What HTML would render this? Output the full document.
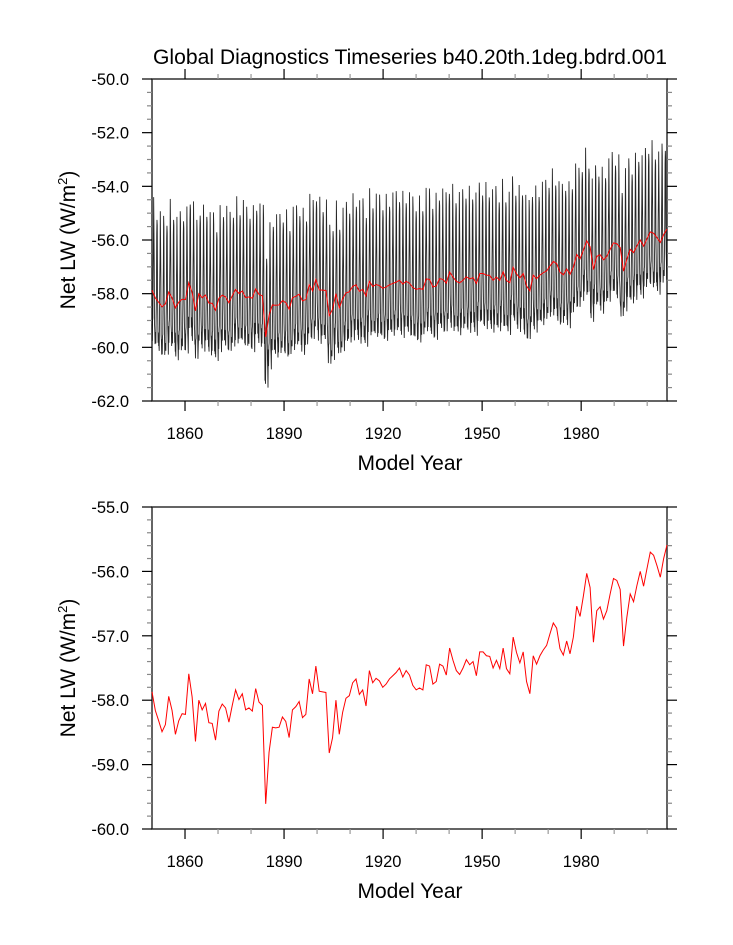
<!DOCTYPE html>
<html><head><meta charset="utf-8">
<style>
html,body{margin:0;padding:0;background:#fff;}
svg{display:block;font-family:"Liberation Sans",Arial,sans-serif;}
</style></head>
<body>
<svg id="chart" width="733" height="945" viewBox="0 0 733 945" xmlns="http://www.w3.org/2000/svg">
<text x="410" y="64" font-size="21" text-anchor="middle" fill="#000" textLength="514" lengthAdjust="spacingAndGlyphs">Global Diagnostics Timeseries b40.20th.1deg.bdrd.001</text>
<g id="top"></g>
<g id="bot"></g>
</svg>
<script>
// Annual mean Net LW (W/m2), years 1850..2004
const years = [];
for (let y = 1850; y <= 2004; y++) years.push(y);
const annualMean = [
-57.87,-58.16,-58.32,-58.49,-58.38,-57.94,-58.16,-58.53,-58.32,-58.21,
-58.22,-57.59,-57.95,-58.64,-58.00,-58.15,-58.05,-58.35,-58.36,-58.62,
-58.17,-58.06,-58.12,-58.34,-58.08,-57.84,-57.99,-57.90,-58.15,-58.12,
-58.17,-57.82,-58.03,-58.08,-59.61,-58.81,-58.42,-58.43,-58.42,-58.26,
-58.33,-58.58,-58.15,-58.10,-58.02,-58.27,-58.22,-57.67,-57.90,-57.47,
-57.86,-57.87,-57.88,-58.82,-58.58,-58.00,-58.53,-58.19,-57.97,-57.93,
-57.73,-57.67,-57.91,-57.84,-58.09,-57.54,-57.73,-57.66,-57.70,-57.80,
-57.75,-57.67,-57.62,-57.57,-57.50,-57.64,-57.54,-57.61,-57.77,-57.84,
-57.81,-57.84,-57.45,-57.47,-57.75,-57.71,-57.44,-57.47,-57.61,-57.19,
-57.38,-57.54,-57.60,-57.50,-57.37,-57.45,-57.40,-57.62,-57.25,-57.25,
-57.31,-57.32,-57.50,-57.38,-57.51,-57.19,-57.51,-57.59,-57.02,-57.26,
-57.42,-57.25,-57.71,-57.90,-57.31,-57.44,-57.31,-57.22,-57.15,-56.97,
-56.80,-56.88,-57.20,-57.30,-57.08,-57.28,-57.02,-56.54,-56.70,-56.38,
-56.03,-56.25,-57.10,-56.61,-56.55,-56.74,-56.61,-56.35,-56.11,-56.14,
-56.28,-57.16,-56.71,-56.35,-56.47,-56.22,-56.00,-56.23,-55.96,-55.70,
-55.75,-55.91,-56.09,-55.80,-55.59
];
// Mean seasonal cycle anomaly (Jan..Dec), W/m2
const seasonal = [-1.45,-1.65,-1.45,-0.85,0.35,1.95,3.15,2.55,0.55,-1.05,-1.55,-1.65];
// Irregular month-to-month wiggle pattern (read visually), W/m2
const wiggle = [0.3,-0.4,0.5,-0.3,0.2,-0.5,0.4,-0.2,0.6,-0.3,0.1,-0.6,0.3,0.5,-0.4];

const topTicksY = [-62,-60,-58,-56,-54,-52,-50];
const topLabelsY = ["-62.0","-60.0","-58.0","-56.0","-54.0","-52.0","-50.0"];
const botTicksY = [-60,-59,-58,-57,-56,-55];
const botLabelsY = ["-60.0","-59.0","-58.0","-57.0","-56.0","-55.0"];
const xTicks = [1860,1890,1920,1950,1980];
const xLabels = ["1860","1890","1920","1950","1980"];

const NS = "http://www.w3.org/2000/svg";
function mk(parent, tag, attrs){
  const e = document.createElementNS(NS, tag);
  for (const k in attrs) e.setAttribute(k, attrs[k]);
  parent.appendChild(e);
  return e;
}
const L = 152, R = 667;
const X0 = 1850, X1 = 2006;

function panel(g, top, bottom, yMin, yMax, yMaj, yLab, yMinorStep, mirrorTop){
  const xs = v => L + (v - X0) / (X1 - X0) * (R - L);
  const ys = v => bottom - (v - yMin) / (yMax - yMin) * (bottom - top);
  const frame = mk(g, "rect", {x:L, y:top, width:R-L, height:bottom-top, fill:"none", stroke:"#222", "stroke-width":1.4});
  
  
  const nMin = Math.round((yMax - yMin) / yMinorStep);
  for (let i = 0; i <= nMin; i++){
    const v = yMin + i * yMinorStep;
    const isMaj = yMaj.some(m => Math.abs(m - v) < 1e-6);
    const len = isMaj ? 10 : 5;
    const col = isMaj ? "#000" : "#888";
    const t1 = mk(g, "line", {x1:L-len, x2:L, y1:ys(v), y2:ys(v), stroke:col, "stroke-width":1.2});
    
    
    const t2 = mk(g, "line", {x1:R, x2:R+len, y1:ys(v), y2:ys(v), stroke:col, "stroke-width":1.2});
    
    
  }
  yMaj.forEach((v, i) => {
    const t = mk(g, "text", {x:L-23, y:ys(v)+6, "font-size":16.5, "text-anchor":"end"});
    t.textContent = yLab[i];
    
    
  });
  for (let yr = 1860; yr <= 2000; yr += 10){
    const isMaj = xTicks.includes(yr);
    const len = isMaj ? 10 : 5;
    const col = isMaj ? "#000" : "#999";
    const t = mk(g, "line", {x1:xs(yr), x2:xs(yr), y1:bottom, y2:bottom+len, stroke:col, "stroke-width":1.2});
    
    
    if (mirrorTop){
      const t2 = mk(g, "line", {x1:xs(yr), x2:xs(yr), y1:top-len, y2:top, stroke:col, "stroke-width":1.2});
      
      
    }
  }
  xTicks.forEach((v, i) => {
    const t = mk(g, "text", {x:xs(v), y:bottom+38, "font-size":16.5, "text-anchor":"middle"});
    t.textContent = xLabels[i];
    
    
  });
  const xt = mk(g, "text", {x:410, y:bottom+69, "font-size":21, "text-anchor":"middle"});
  xt.textContent = "Model Year";
  
  
  const cy = (top + bottom) / 2;
  const yt = mk(g, "text", {x:0, y:0, "font-size":21, "text-anchor":"middle", transform:"translate(75,"+cy+") rotate(-90)"});
  yt.innerHTML = 'Net LW (W/m<tspan dy="-8" font-size="13">2</tspan><tspan dy="8">)</tspan>';
  
  
  return {xs, ys};
}
// annual points span the full year range of the axis
const stretch = (X1 - X0) / (years.length - 1);
const ax = i => X0 + i * stretch;

// Top panel (monthly + annual)
const gt = document.getElementById("top");
const A = panel(gt, 79, 401, -62, -50, topTicksY, topLabelsY, 0.5, true);
let pts = [];
let k = 0;
annualMean.forEach((m, yi) => {
  seasonal.forEach((s, mi) => {
    const w = wiggle[(k++) % wiggle.length];
    const v = m + s + w * (mi >= 4 && mi <= 8 ? 0.8 : 0.6);
    pts.push(A.xs(X0 + (yi + mi / 12) * (X1 - X0) / years.length).toFixed(2) + "," + A.ys(v).toFixed(2));
  });
});
const ml = mk(gt, "polyline", {points:pts.join(" "), fill:"none", stroke:"#000", "stroke-width":0.9, "stroke-opacity":0.85});


const ap = annualMean.map((v, i) => A.xs(ax(i)).toFixed(2) + "," + A.ys(v).toFixed(2));
const al = mk(gt, "polyline", {points:ap.join(" "), fill:"none", stroke:"#ff0000", "stroke-width":1});



// Bottom panel (annual)
const gb = document.getElementById("bot");
const B = panel(gb, 507, 829, -60, -55, botTicksY, botLabelsY, 0.2, false);
const bp = annualMean.map((v, i) => B.xs(ax(i)).toFixed(2) + "," + B.ys(v).toFixed(2));
const bl = mk(gb, "polyline", {points:bp.join(" "), fill:"none", stroke:"#ff0000", "stroke-width":1});


</script>
</body></html>
